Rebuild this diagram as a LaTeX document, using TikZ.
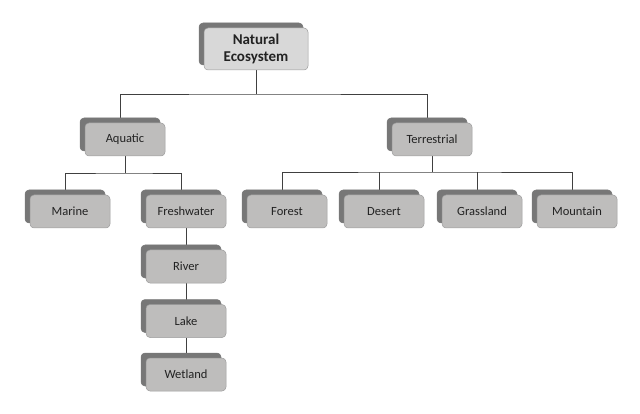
\documentclass[tikz,border=0pt]{standalone}
\usepackage{fontspec}
\setmainfont{Carlito}
\usetikzlibrary{shadows,backgrounds}
\definecolor{ink}{HTML}{222222}
\definecolor{wire}{HTML}{404040}
\definecolor{slab}{HTML}{BEBDBC}
\definecolor{slabtop}{HTML}{D8D8D8}
\definecolor{slabedge}{HTML}{9C9C9C}
\definecolor{depth}{HTML}{777777}

\begin{document}
\begin{tikzpicture}[
  x=1pt, y=-1pt,
  text=ink,
  block/.style={draw=slabedge, line width=.5pt, fill=slab, rounded corners=4pt,
    minimum width=80pt, minimum height=33pt, inner sep=2pt, font=\fontsize{12.5}{14}\selectfont,
    general shadow={fill=depth, draw=depth, shadow xshift=-5pt, shadow yshift=5pt}},
  rootblock/.style={block, fill=slabtop, minimum width=104pt, minimum height=42pt,
    align=center, font=\fontsize{15}{17.5}\selectfont\bfseries},
  link/.style={draw=wire, line width=.9pt}
]
  \useasboundingbox (0,0) rectangle (640,414);
  \node[rootblock] (root) at (256,49) {Natural\\Ecosystem};
  \node[block] (aquatic) at (125,139.5) {Aquatic};
  \node[block] (terrestrial) at (432,139.5) {Terrestrial};
  \node[block] (marine) at (70,211.5) {Marine};
  \node[block] (freshwater) at (186,211.5) {Freshwater};
  \node[block] (forest) at (287,211.5) {Forest};
  \node[block] (desert) at (384,211.5) {Desert};
  \node[block] (grassland) at (482,211.5) {Grassland};
  \node[block] (mountain) at (577,211.5) {Mountain};
  \node[block] (river) at (186,266.5) {River};
  \node[block] (lake) at (186,321) {Lake};
  \node[block] (wetland) at (186,374.5) {Wetland};
  \begin{scope}[on background layer]
    % first level
    \coordinate (rootbus) at (256,94);
    \draw[link] (root.south) -- (rootbus);
    \draw[link] ([xshift=-5]aquatic.north) |- (rootbus) -| ([xshift=-5]terrestrial.north);
    % aquatic branch
    \coordinate (aquabus) at (125,173);
    \draw[link] (aquatic.south) -- (aquabus);
    \draw[link] ([xshift=-5]marine.north) |- (aquabus) -| ([xshift=-5]freshwater.north);
    % terrestrial branch
    \coordinate (landbus) at (432,172);
    \draw[link] (terrestrial.south) -- (landbus);
    \draw[link] ([xshift=-5]forest.north) |- (landbus) -| ([xshift=-5]mountain.north);
    \draw[link] ([xshift=-5]desert.north) -- ([xshift=-5]desert.north |- landbus);
    \draw[link] ([xshift=-5]grassland.north) -- ([xshift=-5]grassland.north |- landbus);
    % freshwater chain
    \draw[link] (freshwater.south) -- (river.north);
    \draw[link] (river.south) -- (lake.north);
    \draw[link] (lake.south) -- (wetland.north);
  \end{scope}
\end{tikzpicture}
\end{document}
